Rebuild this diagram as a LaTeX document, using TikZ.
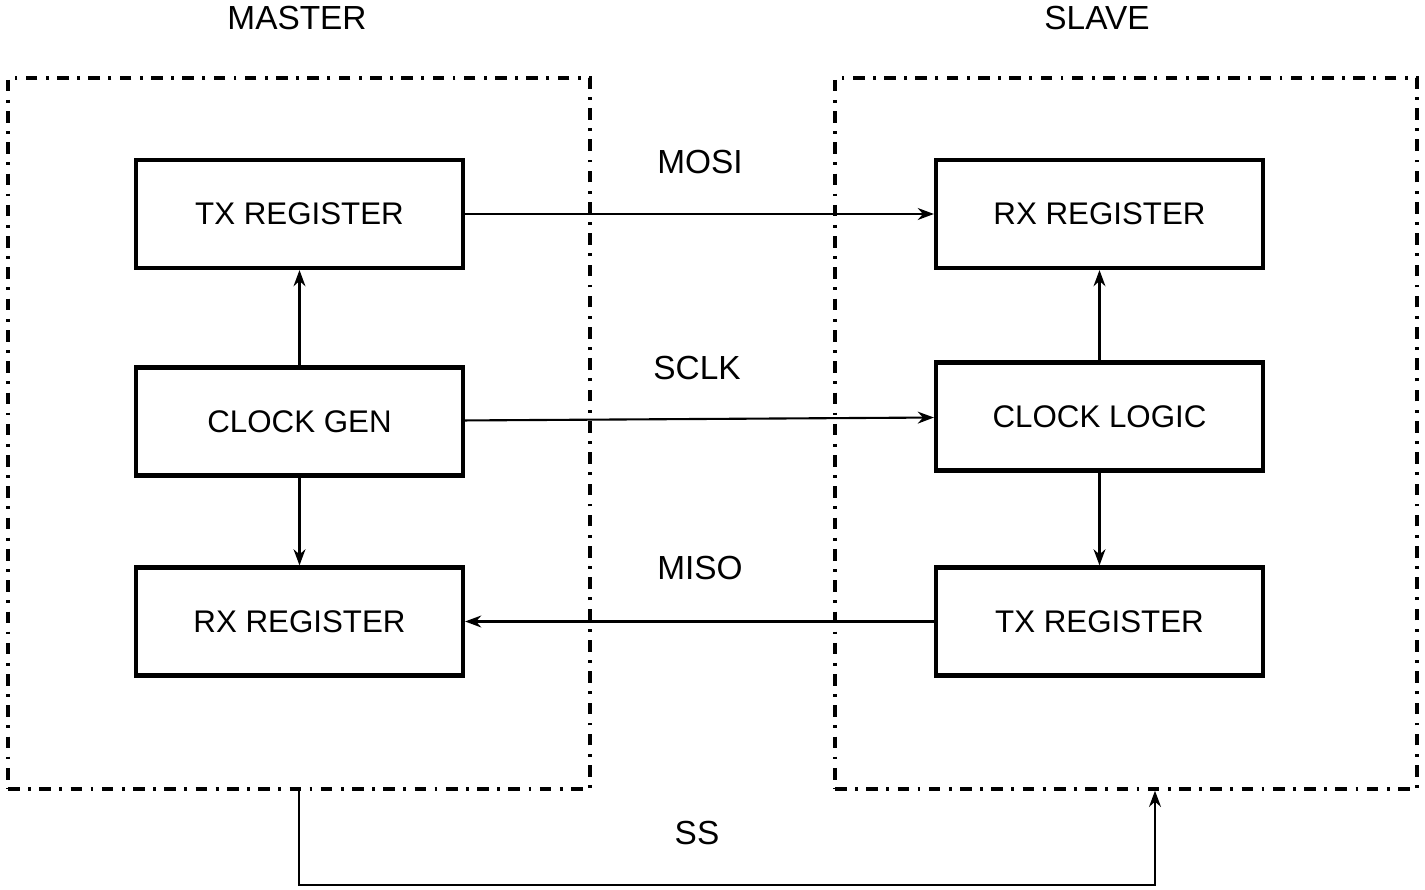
\documentclass[tikz,border=0pt]{standalone}
\usepackage{fontspec}
\setmainfont{Liberation Sans}
\usetikzlibrary{arrows.meta,positioning,shapes}

\tikzset{
	reg/.style={draw, line width=1.2pt, minimum width=3.27cm, minimum height=1.08cm, font=\fontsize{8.9}{11}\selectfont},
	frame/.style={draw, line width=1pt, dash pattern=on 3.3pt off 2.4pt on 0.8pt off 2.4pt, minimum width=5.82cm, minimum height=7.11cm},
	sig/.style={font=\fontsize{9.5}{11}\selectfont},
	>={Stealth[length=4.6pt,width=3.4pt]}
}

\begin{document}
\begin{tikzpicture}
			%\draw[help lines] (0, -8.9) grid (14.25, 0);
			\useasboundingbox (0,0) rectangle (14.25,-8.9);

			\node[frame] (master) at (2.99, -4.335) {};
			\node[frame] (slave) at (11.26, -4.335) {};

			\node[sig] (mastertitle) at (2.97, -0.18) {MASTER};
			\node[sig] (slavetitle) at (10.97, -0.18) {SLAVE};

			\node[reg] (mtx) at (2.995, -2.14) {TX REGISTER};
			\node[reg] (mclk) at (2.995, -4.215) {CLOCK GEN};
			\node[reg] (mrx) at (2.995, -6.215) {RX REGISTER};

			\node[reg] (srx) at (10.995, -2.14) {RX REGISTER};
			\node[reg] (sclk) at (10.995, -4.165) {CLOCK LOGIC};
			\node[reg] (stx) at (10.995, -6.215) {TX REGISTER};

			\node[sig] (mosi) at (7.0, -1.62) {MOSI};
			\node[sig] (sclklabel) at (6.97, -3.68) {SCLK};
			\node[sig] (miso) at (7.0, -5.68) {MISO};
			\node[sig] (ss) at (6.97, -8.33) {SS};

			\draw[line width=0.6pt,->] (mtx) -- (srx);
			\draw[line width=0.6pt,->] (mclk) -- (sclk);
			\draw[line width=0.6pt,->] (stx) -- (mrx);

			\draw[line width=0.6pt,->] (mclk) -- (mtx);
			\draw[line width=0.6pt,->] (mclk) -- (mrx);
			\draw[line width=0.6pt,->] (sclk) -- (srx);
			\draw[line width=0.6pt,->] (sclk) -- (stx);

			\draw[line width=0.6pt,->] (master.south) -- ++(0,-0.94) -| ([xshift=0.29cm]slave.south);
		\end{tikzpicture}
\end{document}
